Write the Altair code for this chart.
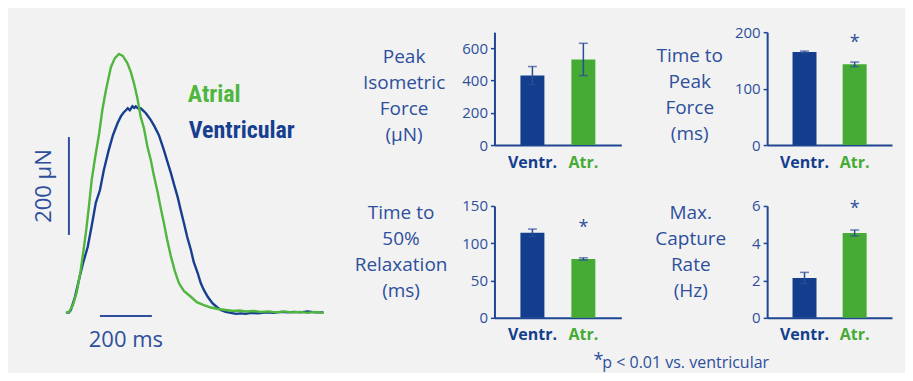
import altair as alt
import pandas as pd

BLUE = "#133e8d"
GREEN = "#45ab34"
TRACE_BLUE = "#173f90"
TRACE_GREEN = "#4fb63e"
TEXT_BLUE = "#2d4f9c"
AXIS = "#1f4693"
ERR = "#2c4d97"
BG = "#f2f2f2"
FONT = "Open Sans"
COND = "'Noto Sans ExtraCondensed', 'Noto Sans Condensed', 'Roboto Condensed', 'Liberation Sans Narrow', Roboto, sans-serif"

# ---- representative force traces (time in ms, force in µN) ----
atrial_t = [0, 12, 27, 42, 56, 68, 79, 90, 99, 112, 128, 140, 154, 173, 188, 204, 219, 237, 250, 262,
            275, 288, 300, 314, 327, 338, 353, 365, 377, 390, 404, 419, 435, 454, 481, 504, 531, 558, 585, 615,
            646, 670, 692, 720, 750, 780, 810, 840, 870, 900, 930, 960, 992]
atrial_f = [0, 2, 16, 43, 84, 129, 173, 225, 271, 316, 367, 414, 455, 502, 520, 529, 525, 510, 492, 469,
            439, 400, 378, 339, 312, 282, 247, 214, 184, 149, 116, 86, 61, 45, 33, 22, 16, 11, 8, 6,
            4, 5, 3, 4, 2, 3, 1, 3, 1, 2, 0, 2, 0]
ventricular_t = [0, 12, 19, 35, 50, 65, 84, 100, 115, 131, 146, 165, 181, 199, 212, 223, 231, 238, 246, 256,
                 263, 269, 277, 288, 308, 327, 342, 358, 377, 390, 404, 417, 430, 442, 454, 467, 481, 492, 507, 519,
                 531, 546, 564, 581, 596, 615, 635, 655, 673, 692, 712, 740, 769, 800, 830, 854, 880, 904, 930, 960,
                 992]
ventricular_f = [0, 1, 6, 33, 67, 100, 135, 180, 225, 251, 292, 333, 363, 388, 402, 410, 414, 418, 414, 422,
                 419, 422, 418, 418, 408, 394, 380, 363, 333, 310, 286, 261, 237, 210, 184, 155, 129, 104, 82, 61,
                 47, 33, 20, 12, 6, 2, 0, -2, -1, -2, 0, -1, 1, 0, 2, 1, 2, 1, 3, 1,
                 1]

# scale bars
bar_time_start = 130.8
bar_time_len = 200
bar_time_level = -6.1
bar_force_start = 159.2
bar_force_len = 200
bar_force_time = 11.5

# ---- summary bars ----
groups = ["Ventr.", "Atr."]
force_mean = [431, 531]
force_sem = [56, 100]
ttp_mean = [165, 143]
ttp_sem = [1.5, 4]
relax_mean = [114, 79]
relax_sem = [5, 1.5]
rate_mean = [2.14, 4.55]
rate_sem = [0.3, 0.16]
star_ttp = 172
star_relax = 114
star_rate = 5.55
footnote = "p < 0.01 vs. ventricular"

# ================= trace panel =================
xs = alt.Scale(domain=[-100, 1088.5], nice=False, zero=False)
ys = alt.Scale(domain=[342.9, 573.5], nice=False, zero=False)


def tx(field):
    return alt.X(field, type="quantitative", scale=xs, axis=None)


def ty(field):
    return alt.Y(field, type="quantitative", scale=ys, axis=None)


vdf = pd.DataFrame({"t": ventricular_t, "f": ventricular_f})
adf = pd.DataFrame({"t": atrial_t, "f": atrial_f})

vline = alt.Chart(vdf).mark_line(color=TRACE_BLUE, strokeWidth=2.4).encode(x=tx("t"), y=ty("f"))
aline = alt.Chart(adf).mark_line(color=TRACE_GREEN, strokeWidth=2.4).encode(x=tx("t"), y=ty("f"))

vbar_df = pd.DataFrame({"t": [bar_force_time], "f1": [bar_force_start], "f2": [bar_force_start + bar_force_len]})
hbar_df = pd.DataFrame({"t1": [bar_time_start], "t2": [bar_time_start + bar_time_len], "f": [bar_time_level]})
vbar = alt.Chart(vbar_df).mark_rule(color=TEXT_BLUE, strokeWidth=2).encode(
    x=tx("t"), y=ty("f1"), y2="f2:Q")
hbar = alt.Chart(hbar_df).mark_rule(color=TEXT_BLUE, strokeWidth=2).encode(
    x=tx("t1"), x2="t2:Q", y=ty("f"))

ylab_df = pd.DataFrame({"t": [-57.7], "f": [bar_force_start + bar_force_len / 2], "s": ["200 µN"]})
xlab_df = pd.DataFrame({"t": [bar_time_start + bar_time_len / 2], "f": [-69.4], "s": ["200 ms"]})
ylab = alt.Chart(ylab_df).mark_text(font=FONT, fontSize=22, color=TEXT_BLUE, angle=270,
                                    align="center", baseline="alphabetic").encode(x=tx("t"), y=ty("f"), text="s:N")
xlab = alt.Chart(xlab_df).mark_text(font=FONT, fontSize=22, color=TEXT_BLUE,
                                    align="center", baseline="alphabetic").encode(x=tx("t"), y=ty("f"), text="s:N")

atr_lab_df = pd.DataFrame({"t": [469.2], "f": [430.6], "s": ["Atrial"]})
ven_lab_df = pd.DataFrame({"t": [473], "f": [357.1], "s": ["Ventricular"]})
atr_lab = alt.Chart(atr_lab_df).mark_text(font=COND, fontSize=24, fontWeight="bold", align="left",
                                          baseline="alphabetic", color=TRACE_GREEN).encode(
    x=tx("t"), y=ty("f"), text="s:N")
ven_lab = alt.Chart(ven_lab_df).mark_text(font=COND, fontSize=24, fontWeight="bold", align="left",
                                          baseline="alphabetic", color=TRACE_BLUE).encode(
    x=tx("t"), y=ty("f"), text="s:N")

trace = alt.layer(vline, aline, vbar, hbar, ylab, xlab, atr_lab, ven_lab).properties(width=309, height=113)


# ================= bar panels =================
def panel(mean, sem, title, ticks, top, width, height, title_x, title_y, star=None, extra=None):
    df = pd.DataFrame({
        "g": groups,
        "m": mean,
        "lo": [a - b for a, b in zip(mean, sem)],
        "hi": [a + b for a, b in zip(mean, sem)],
    })
    xaxis = alt.Axis(title=None, labelAngle=0, labelFont=FONT, labelFontSize=16, labelFontWeight="bold",
                     labelColor={"condition": {"test": "datum.value === 'Atr.'", "value": GREEN}, "value": BLUE},
                     domainColor=AXIS, domainWidth=2, ticks=False, labelPadding=9)
    xscale = alt.Scale(domain=groups, paddingInner=0.0, paddingOuter=0.245)
    yaxis = alt.Axis(values=ticks, title=title, titleAngle=0, titleAlign="center", titleBaseline="top",
                     titleX=title_x, titleY=title_y, titleFont=FONT, titleFontSize=19, titleFontWeight="normal",
                     titleColor=TEXT_BLUE, titleLineHeight=26, labelFont=FONT, labelFontSize=15,
                     labelColor=TEXT_BLUE, labelPadding=3, domainColor=AXIS, domainWidth=2,
                     tickColor=AXIS, tickSize=4, tickWidth=1.5, grid=False)
    yscale = alt.Scale(domain=[0, top], nice=False, zero=True)

    def X():
        return alt.X("g:N", sort=groups, scale=xscale, axis=xaxis)

    def Y(f):
        return alt.Y(f, type="quantitative", scale=yscale, axis=yaxis)

    bars = alt.Chart(df).mark_bar(size=24).encode(
        x=X(), y=Y("m"),
        color=alt.Color("g:N", scale=alt.Scale(domain=groups, range=[BLUE, GREEN]), legend=None))
    err = alt.Chart(df).mark_rule(color=ERR, strokeWidth=1.5).encode(x=X(), y=Y("lo"), y2="hi:Q")
    cap_hi = alt.Chart(df).mark_tick(color=ERR, size=9, thickness=1.5).encode(x=X(), y=Y("hi"))
    cap_lo = alt.Chart(df).mark_tick(color=ERR, size=9, thickness=1.5).encode(x=X(), y=Y("lo"))
    layers = [bars, err, cap_hi, cap_lo]
    if star is not None:
        sdf = pd.DataFrame({"g": ["Atr."], "s": [star], "txt": ["*"]})
        layers.append(alt.Chart(sdf).mark_text(font=FONT, fontSize=18, color=TEXT_BLUE,
                                               baseline="alphabetic").encode(x=X(), y=Y("s"), text="txt:N"))
    if extra is not None:
        layers.extend(extra)
    return alt.layer(*layers).properties(width=width, height=height)


foot_df = pd.DataFrame({"txt": [footnote]})
star_df = pd.DataFrame({"txt": ["*"]})
foot = alt.Chart(foot_df).mark_text(font=FONT, fontSize=16, color=TEXT_BLUE, align="left",
                                    baseline="alphabetic").encode(x=alt.value(108), y=alt.value(162), text="txt:N")
foot_star = alt.Chart(star_df).mark_text(font=FONT, fontSize=18, color=TEXT_BLUE, align="center",
                                         baseline="alphabetic").encode(x=alt.value(104), y=alt.value(160),
                                                                       text="txt:N")

p1 = panel(force_mean, force_sem, ["Peak", "Isometric", "Force", "(µN)"], [0, 200, 400, 600], 700,
           127, 113, -91, 15.5)
p2 = panel(ttp_mean, ttp_sem, ["Time to", "Peak", "Force", "(ms)"], [0, 100, 200], 200,
           125, 113, -78, 14.5, star=star_ttp)
p3 = panel(relax_mean, relax_sem, ["Time to", "50%", "Relaxation", "(ms)"], [0, 50, 100, 150], 150,
           127, 112, -94, -2, star=star_relax, extra=[foot, foot_star])
p4 = panel(rate_mean, rate_sem, ["Max.", "Capture", "Rate", "(Hz)"], [0, 2, 4, 6], 6,
           125, 112, -77, -2.5, star=star_rate)

blank = alt.Chart(pd.DataFrame({"v": [0]})).mark_point(opacity=0).encode(
    x=alt.X("v:Q", axis=None), y=alt.Y("v:Q", axis=None)).properties(width=309, height=112)

chart = alt.concat(trace, p1, p2, blank, p3, p4, columns=3, spacing={"row": 61, "column": 146},
                   bounds="flush").properties(
    background=BG,
    padding={"left": 24, "top": 17, "right": 13, "bottom": 2},
).configure_view(stroke=None).configure_text(font=FONT)

chart.save("out.html", embed_options={"renderer": "svg", "actions": False})
